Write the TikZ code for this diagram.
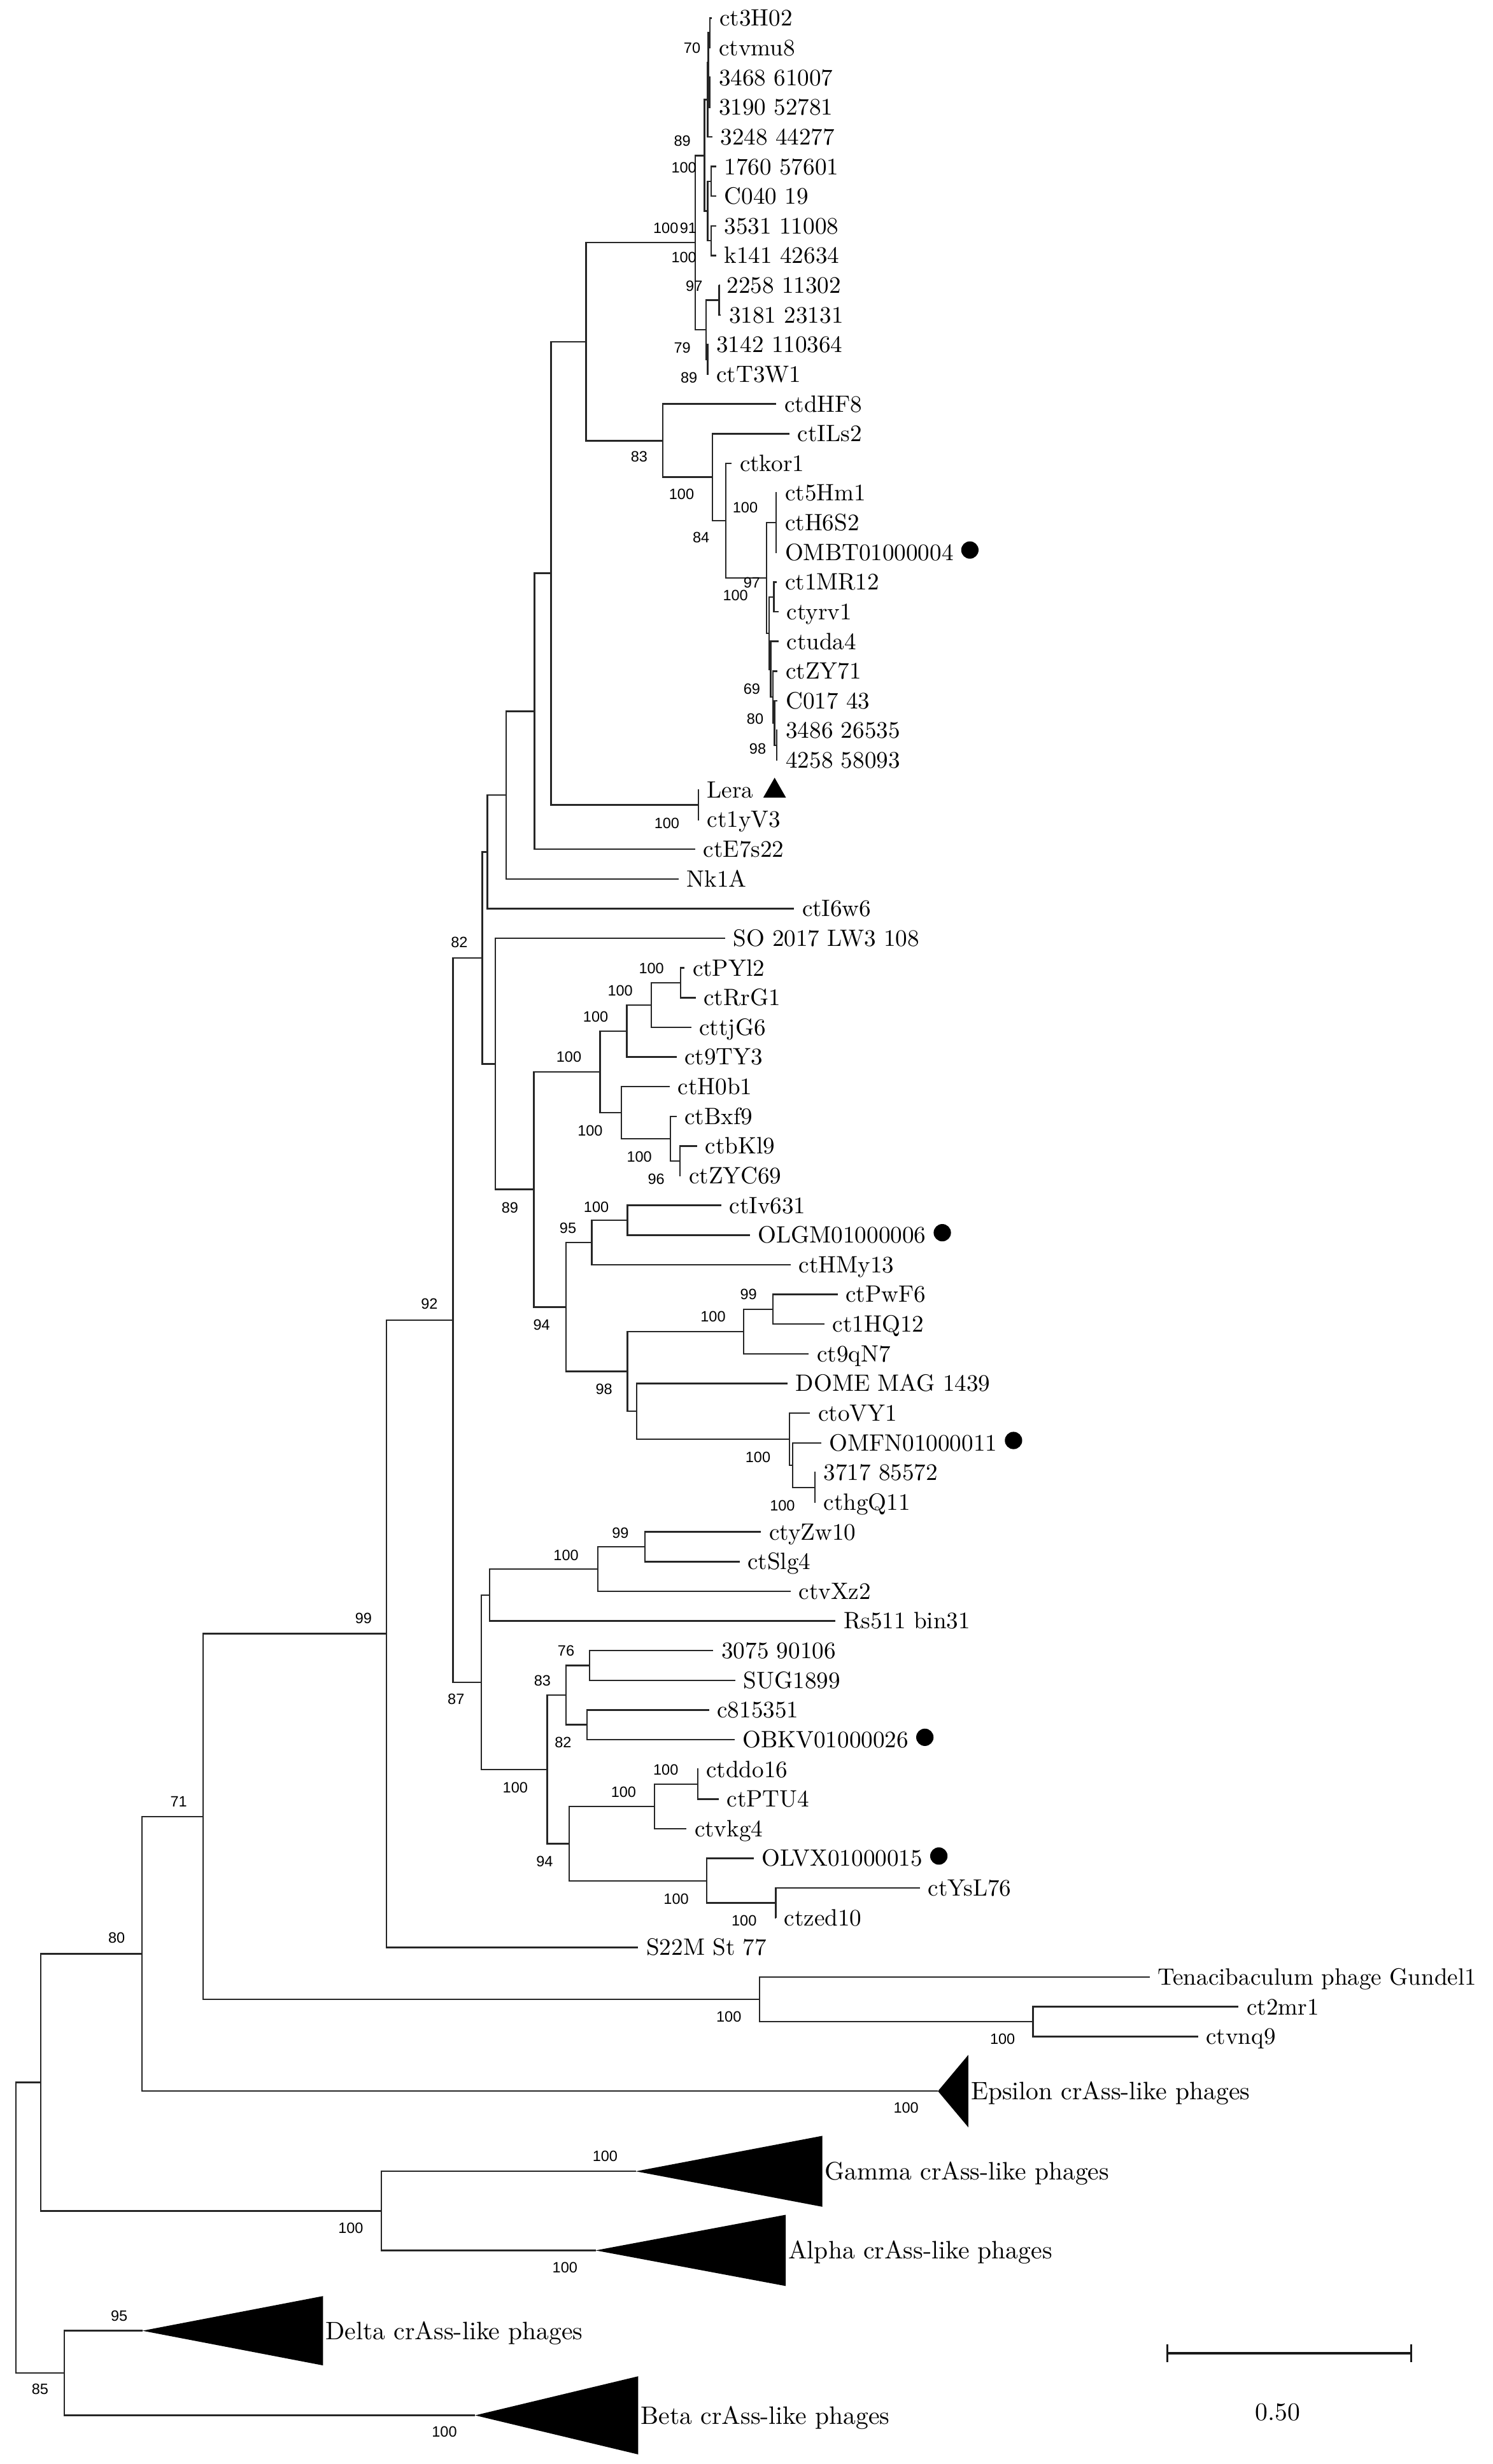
\documentclass[tikz,border=0pt]{standalone}
\usepackage{fontspec}
\setmainfont{lmroman10-regular}[Extension=.otf]
\newfontfamily\bsfont{Liberation Sans}
\usetikzlibrary{positioning,calc}

\newcommand\leaffont{\fontsize{15}{18}\selectfont}
\newcommand\cladefont{\fontsize{16}{19}\selectfont}
\newcommand\bootfont{\bsfont\fontsize{9.5}{11}\selectfont}

\tikzset{
  branch/.style={line width=1pt, draw=black!85},
  leaf/.style={anchor=west, inner xsep=5pt, inner ysep=0pt, text height=10pt, text depth=0pt, font=\leaffont},
  clade/.style={anchor=west, inner xsep=1.5pt, inner ysep=0pt, text height=10.9pt, text depth=0pt, font=\cladefont},
  boot/.style={inner sep=0pt, text height=6.8pt, text depth=0pt, font=\bootfont},
  dot/.style={circle, fill=black, inner sep=0pt, minimum size=11pt, yshift=1.5pt},
  collapsed/.style={fill=black},
  scalebar/.style={line width=1.4pt, draw=black!90},
}

\begin{document}
\begin{tikzpicture}[x=1pt, y=-1pt]

      \useasboundingbox (0,0) rectangle (947.1,1564);

      % leaves: row / tip x / name / text
      \foreach \i/\tx/\nm/\txt in {
        0/451.5/ct3H02/ct3H02, 1/451/ctvmu8/ctvmu8, 2/451/n3468/3468 61007, 3/451/n3190/3190 52781,
        4/452/n3248/3248 44277, 5/454.5/n1760/1760 57601, 6/454.5/C040/C040 19, 7/454.5/n3531/3531 11008,
        8/454.5/k141/k141 42634, 9/456/n2258/2258 11302, 10/457.5/n3181/3181 23131, 11/449.5/n3142/3142 110364,
        12/449.5/ctT3W1/ctT3W1, 13/492.6/ctdHF8/ctdHF8, 14/501/ctILs2/ctILs2, 15/464.3/ctkor1/ctkor1,
        16/493/ct5Hm1/ct5Hm1, 17/493/ctH6S2/ctH6S2, 18/493/OMBT/OMBT01000004, 19/493/ct1MR12/ct1MR12,
        20/494/ctyrv1/ctyrv1, 21/494/ctuda4/ctuda4, 22/493.5/ctZY71/ctZY71, 23/493.5/C017/C017 43,
        24/493.5/n3486/3486 26535, 25/493.5/n4258/4258 58093, 26/443.5/Lera/Lera, 27/443.5/ct1yV3/ct1yV3,
        28/441.2/ctE7s22/ctE7s22, 29/430.7/Nk1A/Nk1A, 30/503.9/ctI6w6/ctI6w6, 31/460/SO2017/SO 2017 LW3 108,
        32/434.4/ctPYl2/ctPYl2, 33/441.4/ctRrG1/ctRrG1, 34/438.6/cttjG6/cttjG6, 35/429.3/ct9TY3/ct9TY3,
        36/425/ctH0b1/ctH0b1, 37/429.3/ctBxf9/ctBxf9, 38/442.4/ctbKl9/ctbKl9, 39/432/ctZYC69/ctZYC69,
        40/457.7/ctIv631/ctIv631, 41/475.8/OLGM/OLGM01000006, 42/501.7/ctHMy13/ctHMy13, 43/531.5/ctPwF6/ctPwF6,
        44/523.2/ct1HQ12/ct1HQ12, 45/513.3/ct9qN7/ct9qN7, 46/499.8/DOME/DOME MAG 1439, 47/514.1/ctoVY1/ctoVY1,
        48/521.1/OMFN/OMFN01000011, 49/517.5/n3717/3717 85572, 50/517.5/cthgQ11/cthgQ11, 51/483/ctyZw10/ctyZw10,
        52/469.3/ctSlg4/ctSlg4, 53/501.7/ctvXz2/ctvXz2, 54/530.2/Rs511/Rs511 bin31, 55/452.7/n3075/3075 90106,
        56/466.7/SUG1899/SUG1899, 57/449.9/c815351/c815351, 58/466.1/OBKV/OBKV01000026, 59/443/ctddo16/ctddo16,
        60/456.1/ctPTU4/ctPTU4, 61/435.6/ctvkg4/ctvkg4, 62/478.3/OLVX/OLVX01000015, 63/583.8/ctYsL76/ctYsL76,
        64/492.5/ctzed10/ctzed10, 65/405/S22M/S22M St 77, 66/729.6/Tena/Tenacibaculum phage Gundel1,
        67/786/ct2mr1/ct2mr1, 68/760.2/ctvnq9/ctvnq9}
      \node[leaf] (\nm) at ({\tx},{11.5+18.84*\i}) {\txt};

      % top cluster
      \coordinate (VA) at (450.5,20.9);   \coordinate (VB) at (450.3,58.6);
      \coordinate (V) at (449.5,39.8);    \coordinate (U) at (449,63.3);
      \coordinate (LA) at (451.4,115.1);  \coordinate (LB) at (451.4,152.8);
      \coordinate (L) at (449,134);       \coordinate (T1) at (447.1,98.7);
      \coordinate (W) at (456.3,190.5);   \coordinate (X) at (449.1,228.2);
      \coordinate (T2) at (448,209.3);    \coordinate (T) at (441.2,154);

      % ctdHF8 group
      \coordinate (NH2) at (493,473.1);   \coordinate (NG) at (491.5,459);
      \coordinate (NF) at (490.4,442.5);  \coordinate (NE) at (489,424.8);
      \coordinate (ND) at (491,378.9);    \coordinate (NC) at (488,401.9);
      \coordinate (N5) at (492.6,331.8);  \coordinate (NA) at (486.4,366.8);
      \coordinate (NK) at (460.5,330.5);  \coordinate (NI) at (452,302.9);
      \coordinate (NH) at (420.6,279.7);  \coordinate (NA5) at (372,216.9);

      % backbone above 82
      \coordinate (NLera) at (443.3,510.8); \coordinate (NA4) at (349.7,363.8);
      \coordinate (NA3) at (339.2,451.4);   \coordinate (NA2) at (321.3,504.6);
      \coordinate (NA1) at (309.2,540.7);   \coordinate (N82) at (306.1,608);

      % ctPYl2 .. cthgQ11
      \coordinate (NQ3) at (432,623.8);   \coordinate (NQ2) at (413.4,638);
      \coordinate (NQ) at (397.8,654.5);  \coordinate (NbK) at (431.5,736.9);
      \coordinate (NBx) at (425.5,722.8); \coordinate (NH0) at (394.3,706.2);
      \coordinate (NP) at (380.8,680.4);  \coordinate (NIv) at (398.2,774.5);
      \coordinate (N95) at (375.6,788.7); \coordinate (N99b) at (490.5,831);
      \coordinate (N100g) at (471.9,845.2); \coordinate (N37) at (517.2,944.1);
      \coordinate (NOM) at (503,930);     \coordinate (NoV) at (500.9,913.5);
      \coordinate (ND2) at (404.1,895.8); \coordinate (N98) at (398.1,870.5);
      \coordinate (N94) at (359.2,829.6); \coordinate (N89) at (338.8,755);
      \coordinate (NSO) at (314.3,675.3);

      % ctyZw10 .. ctzed10
      \coordinate (NZ) at (409.2,981.8);  \coordinate (NY) at (379.4,995.9);
      \coordinate (NR) at (310.8,1012.4); \coordinate (N76) at (374.1,1057.1);
      \coordinate (N82b) at (372.6,1094.8); \coordinate (N83) at (359.2,1076);
      \coordinate (N100d) at (442.8,1132.5); \coordinate (N100c) at (415.4,1146.6);
      \coordinate (N100f) at (492.3,1207.9); \coordinate (N100e) at (448.4,1193.8);
      \coordinate (N94b) at (361.2,1170.2); \coordinate (NL) at (347.3,1123.1);
      \coordinate (NB) at (305.4,1067.8);   \coordinate (N87) at (287.5,837.9);

      % basal part
      \coordinate (N92) at (245.3,1037);  \coordinate (N2m) at (655.5,1283.2);
      \coordinate (NTen) at (482.1,1269); \coordinate (N99) at (128.9,1153);
      \coordinate (N71) at (90.1,1240.2); \coordinate (GA) at (242.1,1403.3);
      \coordinate (N80) at (25.8,1321.8); \coordinate (N85) at (40.8,1506.3);
      \coordinate (R) at (10.2,1414);

      % collapsed clades
      \coordinate (EpsA) at (595.2,1327.3);
      \coordinate (GamA) at (403.5,1378.2);
      \coordinate (AlpA) at (378,1428.4);
      \coordinate (DelA) at (90.4,1479.4);
      \coordinate (BetA) at (301.5,1533.1);

      \fill[collapsed] (EpsA) -- ++(19.3,-23) -- ++(0,46) -- cycle;
      \fill[collapsed] (GamA) -- ++(118.3,-22.5) -- ++(0,45) -- cycle;
      \fill[collapsed] (AlpA) -- ++(120.6,-22.6) -- ++(0,45.2) -- cycle;
      \fill[collapsed] (DelA) -- ++(114.6,-22) -- ++(0,44) -- cycle;
      \fill[collapsed] (BetA) -- ++(103.5,-24.8) -- ++(0,49.6) -- cycle;

      \node[clade] (eps) at (614.5,1327.3) {Epsilon crAss-like phages};
      \node[clade] (gam) at (521.8,1378.2) {Gamma crAss-like phages};
      \node[clade] (alp) at (498.6,1428.4) {Alpha crAss-like phages};
      \node[clade] (del) at (205,1479.4) {Delta crAss-like phages};
      \node[clade] (bet) at (405,1533.1) {Beta crAss-like phages};

      % branches
      \foreach \p/\c in {
        T/T1, T/T2, T1/U, T1/L, U/V, U/n3248, V/VA, V/VB, VA/ct3H02, VA/ctvmu8, VB/n3468, VB/n3190,
        L/LA, L/LB, LA/n1760, LA/C040, LB/n3531, LB/k141, T2/W, T2/X, W/n2258, W/n3181, X/n3142, X/ctT3W1,
        NA5/T, NA5/NH, NH/ctdHF8, NH/NI, NI/ctILs2, NI/NK, NK/ctkor1, NK/NA, NA/N5, NA/NC,
        N5/ct5Hm1, N5/ctH6S2, N5/OMBT, NC/ND, NC/NE, ND/ct1MR12, ND/ctyrv1, NE/ctuda4, NE/NF,
        NF/ctZY71, NF/NG, NG/C017, NG/NH2, NH2/n3486, NH2/n4258,
        NA4/NA5, NA4/NLera, NLera/Lera, NLera/ct1yV3, NA3/NA4, NA3/ctE7s22, NA2/NA3, NA2/Nk1A,
        NA1/NA2, NA1/ctI6w6, N82/NA1, N82/NSO, NSO/SO2017, NSO/N89, N89/NP, N89/N94,
        NP/NQ, NP/NH0, NQ/NQ2, NQ/ct9TY3, NQ2/NQ3, NQ2/cttjG6, NQ3/ctPYl2, NQ3/ctRrG1,
        NH0/ctH0b1, NH0/NBx, NBx/ctBxf9, NBx/NbK, NbK/ctbKl9, NbK/ctZYC69,
        N94/N95, N94/N98, N95/NIv, N95/ctHMy13, NIv/ctIv631, NIv/OLGM, N98/N100g, N98/ND2,
        N100g/N99b, N100g/ct9qN7, N99b/ctPwF6, N99b/ct1HQ12, ND2/DOME, ND2/NoV, NoV/ctoVY1, NoV/NOM,
        NOM/OMFN, NOM/N37, N37/n3717, N37/cthgQ11,
        N87/N82, N87/NB, NB/NR, NB/NL, NR/NY, NR/Rs511, NY/NZ, NY/ctvXz2, NZ/ctyZw10, NZ/ctSlg4,
        NL/N83, NL/N94b, N83/N76, N83/N82b, N76/n3075, N76/SUG1899, N82b/c815351, N82b/OBKV,
        N94b/N100c, N94b/N100e, N100c/N100d, N100c/ctvkg4, N100d/ctddo16, N100d/ctPTU4,
        N100e/OLVX, N100e/N100f, N100f/ctYsL76, N100f/ctzed10,
        N92/N87, N92/S22M, N99/N92, N99/NTen, NTen/Tena, NTen/N2m, N2m/ct2mr1, N2m/ctvnq9,
        N71/N99, N71/EpsA, N80/N71, N80/GA, GA/GamA, GA/AlpA, N85/DelA, N85/BetA, R/N80, R/N85}
      \draw[branch] (\p) |- (\c);

      % marks after names
      \node[dot, right=-0.5pt of OMBT] (dOMBT) {};
      \node[dot, right=-0.5pt of OLGM] (dOLGM) {};
      \node[dot, right=-0.5pt of OMFN] (dOMFN) {};
      \node[dot, right=-0.5pt of OBKV] (dOBKV) {};
      \node[dot, right=-0.5pt of OLVX] (dOLVX) {};
      \fill ($(Lera.east)+(1,5)$) -- ++(14.5,0) -- ++(-7.25,-12.7) -- cycle; % Lera triangle

      % bootstrap values
      \foreach \x/\y/\b [count=\k] in {
        439.2/30.3/70, 433/89.2/89, 434/106.1/100, 422.5/144.8/100, 436.7/144.8/91, 434/163.3/100,
        440.5/181.3/97, 433/220.5/79, 437.2/239.6/89,
        405.6/289.9/83, 432.5/313.5/100, 444.9/341.2/84, 472.9/322.1/100, 477.1/369.8/97,
        466.7/377.9/100, 477.1/437.2/69, 479.2/456.2/80, 480.8/475.2/98, 423.2/522.3/100,
        291.5/597.8/82, 413.4/614.6/100, 393.6/628.8/100, 378/645.1/100, 361/670.8/100,
        374.5/717.4/100, 405.7/734.2/100, 416.4/748.3/96, 323.6/766.5/89, 378.4/766/100,
        360.4/779.5/95, 343.7/840.7/94, 475/821.5/99, 452.5/835.6/100, 383.3/881.5/98,
        481/925/100, 496.5/955.7/100, 393.7/973/99, 359.2/986.9/100,
        359.2/1047.5/76, 344.2/1066.5/83, 289.4/1078.3/87, 357.3/1106/82, 422.5/1123.3/100,
        395.7/1137.2/100, 327/1134.5/100, 345.6/1181.6/94, 429.1/1205.1/100, 472.2/1219/100,
        272.5/827.6/92, 230.7/1026.9/99, 113.4/1143.5/71, 74/1230/80, 462.5/1280/100,
        636.2/1294.3/100, 575/1337.8/100, 384/1368.5/100, 222.6/1414/100, 358.5/1439.2/100,
        75.6/1469.7/95, 25.4/1516.5/85, 282/1543.6/100}
      \node[boot] (bs\k) at (\x,\y) {\b};

      % scale bar
      \coordinate (sbL) at (740.7,1493.6);
      \coordinate (sbR) at (895.6,1493.6);
      \draw[scalebar] (sbL) -- (sbR);
      \draw[scalebar] (sbL) ++(0,-5.7) -- ++(0,11.4);
      \draw[scalebar] (sbR) ++(0,-5.7) -- ++(0,11.4);
      \node[font=\cladefont, inner sep=0pt] (sbtext) at (810.8,1531.3) {0.50};

\end{tikzpicture}
\end{document}
